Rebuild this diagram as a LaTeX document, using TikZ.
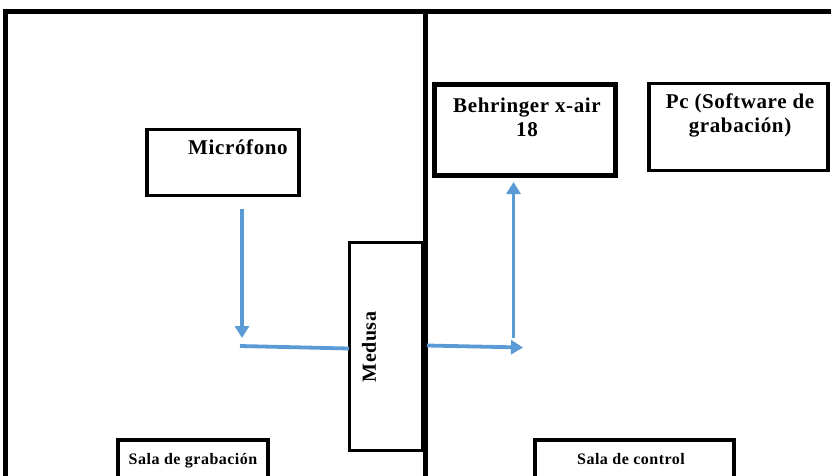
\documentclass[tikz,border=0pt]{standalone}
\usepackage{fontspec}
\setmainfont{Liberation Serif}[LetterSpace=3]
\usetikzlibrary{arrows.meta}
\definecolor{flow}{HTML}{5B9BD5}
\begin{document}
\begin{tikzpicture}[x=1pt,y=-1pt,
  frame/.style={line width=5pt},
  box/.style={draw,line width=3.5pt,rectangle,inner sep=0pt},
  thickbox/.style={draw,line width=5pt,rectangle,inner sep=0pt},
  lbl/.style={font=\bfseries\fontsize{21}{24}\selectfont,align=center,inner sep=0pt},
  smalllbl/.style={font=\bfseries\fontsize{16}{18}\selectfont,inner sep=0pt},
  flowline/.style={draw=flow,line width=3.8pt},
  flowarrow/.style={flowline,-{Triangle[width=14pt,length=12pt]}}]
\useasboundingbox (0,0) rectangle (831,475);
\fill[white] (0,0) rectangle (831,475);
% walls
\coordinate (tl) at (5.5,11.5);
\coordinate (tr) at (835,11.5);
\coordinate (bl) at (5.5,480);
\coordinate (dt) at (425,11.5);
\coordinate (db) at (425,480);
\draw[frame] (bl) -- (tl) -- (tr);
\draw[frame] (dt) -- (db);
% boxes
\node[box,minimum width=152pt,minimum height=66pt] (mic) at (223,162.5) {};
\node[lbl,anchor=base] (mictxt) at (238,154) {Micrófono};
\node[thickbox,minimum width=181pt,minimum height=91pt] (beh) at (524.5,129.5) {};
\node[lbl,anchor=base] (behtxt) at (527,136) {Behringer x-air\\18};
\node[box,minimum width=179pt,minimum height=87pt] (pc) at (738.5,127) {};
\node[lbl,anchor=base] (pctxt) at (740,132) {Pc (Software de\\grabación)};
\node[draw,line width=3pt,minimum width=73pt,minimum height=208pt,inner sep=0pt] (med) at (385.5,346) {};
\node[lbl,rotate=90,font=\bfseries\fontsize{20}{22}\selectfont] (medtxt) at (369,347) {Medusa};
\node[box,minimum width=150pt,minimum height=60pt] (sg) at (193,470) {};
\node[smalllbl,anchor=base] (sgtxt) at (193,464) {Sala de grabación};
\node[box,minimum width=199pt,minimum height=60pt] (sc) at (634.5,470) {};
\node[smalllbl,anchor=base] (sctxt) at (631,464) {Sala de control};
% flow
\coordinate (a1) at (242,209);
\coordinate (a2) at (242,338);
\coordinate (h1) at (240,346);
\coordinate (h2) at (349,348.5);
\coordinate (r1) at (427,345.5);
\coordinate (r2) at (523,347.5);
\coordinate (u1) at (513.5,338);
\coordinate (u2) at (513.5,182);
\draw[flowarrow] (a1) -- (a2);
\draw[flowline] (h1) -- (h2);
\draw[flowarrow] (r1) -- (r2);
\draw[flowarrow] (u1) -- (u2);
\end{tikzpicture}
\end{document}
